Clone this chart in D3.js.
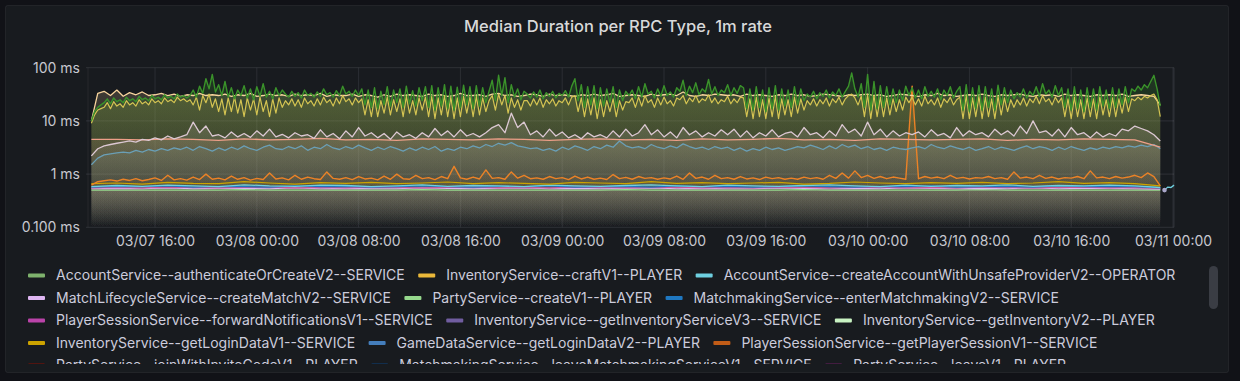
<!DOCTYPE html>
<html><head><meta charset="utf-8">
<script src="https://cdn.jsdelivr.net/npm/d3@7"></script>
<style>
html,body{margin:0;padding:0;background:#111217;overflow:hidden;}
svg{display:block;font-family:Inter,Roboto,"Noto Sans",sans-serif;}
</style></head><body>
<svg id="chart" width="1240" height="381"></svg>
<script>
// ---------------- DATA ----------------
const chartTitle = "Median Duration per RPC Type, 1m rate";
const yTickValues = [0.1, 1, 10, 100];
const yTickLabels = ["0.100 ms", "1 ms", "10 ms", "100 ms"];
const xTickTimes = ["2021-03-07T16:00Z","2021-03-08T00:00Z","2021-03-08T08:00Z","2021-03-08T16:00Z","2021-03-09T00:00Z","2021-03-09T08:00Z","2021-03-09T16:00Z","2021-03-10T00:00Z","2021-03-10T08:00Z","2021-03-10T16:00Z","2021-03-11T00:00Z"];
const xDomain = ["2021-03-07T10:44Z", "2021-03-11T00:00Z"];

// sample grids (start times); series below are read every 15 min, 30 min or 2 h
const quarterHourStart = "2021-03-07T11:00Z";
const halfHourStart = "2021-03-07T11:00Z";
const twoHourStart = "2021-03-07T11:00Z";

// 15-minute samples
const greenValues = [
10,15,18,20,
22,26,21,27,23,25,22,28,24,26,23,29,25,27,24,30,26,28,25,31,27,29,26,32,28,30,27,
30,38,28,45,33,62,40,75,35,48,
30,55,28,42,26,38,30,46,27,40,25,44,29,50,28,36,26,42,30,38,
32,28,36,29,34,27,38,30,33,28,35,29,40,31,34,28,37,30,45,32,36,29,38,30,
40,20,38,18,42,17,36,20,44,19,38,22,40,18,45,21,37,19,42,24,
44,18,46,16,42,19,48,17,45,16,43,18,47,20,44,17,46,19,42,22,
36,58,24,72,30,65,22,48,28,40,25,36,
32,27,35,28,38,26,34,29,36,27,33,30,37,28,
45,62,24,48,18,44,20,46,17,42,19,40,22,44,18,38,24,36,
30,38,26,44,28,50,32,36,27,40,29,46,30,35,28,42,
36,58,30,45,34,52,31,40,35,60,32,44,30,38,34,48,30,42,33,46,
42,17,40,16,44,18,38,15,42,17,46,16,40,19,38,18,44,20,40,24,
32,28,36,26,34,29,38,27,35,30,40,28,36,45,80,40,
28,50,18,75,16,55,17,46,18,44,20,40,22,38,24,45,
30,42,27,38,26,44,29,36,28,40,25,38,30,44,27,36,
44,16,48,15,42,17,46,16,44,18,40,16,47,20,42,22,38,26,
34,28,40,27,36,30,44,29,50,32,38,28,46,30,
42,18,40,16,44,17,38,15,42,18,40,16,44,19,38,17,42,18,40,20,44,22,
40,36,45,38,48,42,55,72,40,19];

const yellowValues = [
9,13,16,17,
18,22,17,23,19,21,18,24,20,22,19,25,21,23,20,26,22,24,21,27,23,25,22,28,24,26,23,
25,20,28,16,30,22,32,18,26,15,
26,13,27,15,28,14,25,12,27,16,26,13,28,15,24,12,26,14,27,18,
24,20,26,19,25,18,27,21,24,19,26,20,28,22,25,19,27,21,30,23,26,20,27,22,
26,13,25,12,27,12,24,14,28,13,25,15,26,12,29,14,24,13,27,16,
28,12,29,11,27,13,30,12,28,11,27,12,29,14,28,12,29,13,27,15,
24,30,16,32,20,30,14,27,18,25,16,24,
24,19,26,20,27,18,25,21,26,19,24,22,27,20,
28,30,15,27,12,26,13,27,11,25,12,24,15,26,12,24,16,23,
22,27,18,28,19,30,22,25,18,27,20,28,21,24,19,27,
25,30,21,27,23,30,22,26,24,31,22,27,21,25,23,29,21,26,22,28,
27,12,26,11,28,12,25,11,27,12,29,11,26,13,25,12,28,14,26,16,
24,20,26,19,25,21,27,19,26,22,28,20,26,30,32,27,
20,29,12,31,11,30,12,28,12,27,13,26,15,25,16,28,
22,28,20,26,19,29,21,25,20,27,18,26,22,28,20,25,
28,11,30,11,27,12,29,11,28,12,26,11,29,13,27,15,25,18,
25,20,27,19,26,22,29,21,30,23,26,20,28,22,
27,12,26,11,28,12,25,11,27,12,26,11,28,13,25,12,27,12,26,14,28,15,
26,24,28,25,29,27,30,32,25,12];

// 30-minute samples
const peachValues = [
10,33,36,30,38,29,34,31,35,30,
31,33,30,32,29,31,30,33,30,31,
30,32,29,31,30,33,29,30,32,30,
31,29,32,30,31,30,33,29,31,30,
30,32,29,31,30,28,31,29,32,30,
31,30,29,32,30,31,29,30,33,30,
30,31,29,32,33,30,31,29,30,32,
31,29,32,30,31,30,29,31,30,32,
30,31,33,29,30,31,30,29,32,30,
31,32,30,35,30,29,31,30,32,31,
30,31,29,32,30,31,30,29,31,30,
32,30,31,29,30,32,31,30,29,31,
30,31,32,30,31,29,30,32,31,30,
29,31,30,33,30,31,29,30,31,30,
32,30,29,31,30,31,32,30,29,31,
30,31,29,32,30,31,30,29,31,30,
31,30,32,29,30,31,30,29,20];

const pinkWhiteValues = [
2.2,3.0,3.4,3.6,3.8,4.0,4.2,4.0,4.5,4.3,
4.8,4.4,5.2,4.6,5.0,5.5,9.5,6.0,8.0,5.2,
5.5,4.8,6.2,5.0,5.8,4.9,6.5,5.2,7.0,5.0,
5.6,4.8,6.0,5.2,5.5,4.7,6.8,5.0,5.8,4.6,
6.5,5.0,7.5,5.2,6.0,4.8,5.8,4.5,6.2,5.0,
5.5,4.7,6.0,5.0,7.2,5.3,6.5,5.0,6.8,5.2,
5.8,5.0,6.0,7.5,8.5,6.0,14.0,7.5,9.5,5.5,
6.5,5.0,7.0,5.2,6.2,4.8,5.5,4.6,6.0,5.0,
5.5,4.8,6.5,5.0,7.0,5.2,6.0,8.5,5.5,6.8,
5.0,6.2,4.8,7.5,5.5,6.5,5.0,6.0,5.2,6.8,
5.5,7.0,5.0,6.5,4.8,6.0,5.2,6.8,5.0,5.8,
6.2,5.0,7.5,5.5,6.0,4.8,6.5,5.2,8.5,6.0,
7.0,5.2,9.5,5.5,7.0,5.0,6.5,5.2,6.0,5.5,
6.2,5.0,6.8,5.3,5.8,4.8,7.5,5.2,6.5,5.5,
6.0,5.0,7.0,5.5,6.5,5.2,8.0,5.8,10.0,6.0,
6.5,5.2,7.0,5.0,7.5,5.5,6.0,4.8,6.2,5.0,
5.8,5.2,7.0,6.5,8.0,7.2,6.5,5.5,4.2];

const steelBlueValues = [
1.5,2.0,2.3,2.4,2.5,2.6,2.5,2.8,2.6,2.9,
2.7,3.0,2.8,3.1,2.9,3.2,2.8,3.3,3.0,2.7,
3.1,2.8,3.2,2.9,3.4,3.0,2.8,3.2,3.5,3.0,
2.9,3.3,3.0,3.4,2.8,3.2,3.0,3.6,3.1,2.9,
3.3,3.0,3.5,3.1,2.8,3.2,2.9,3.3,3.0,2.7,
3.1,2.8,3.2,2.9,3.3,2.7,3.0,2.8,3.2,3.0,
3.4,3.1,3.6,3.3,3.8,3.5,3.9,3.4,3.2,3.0,
3.1,2.8,3.0,2.7,3.2,2.9,3.4,3.1,2.8,3.3,
3.0,3.5,3.2,4.2,3.4,3.1,3.3,3.0,3.6,3.2,
3.0,3.4,3.1,3.7,3.3,3.0,3.2,2.9,3.3,3.0,
3.2,2.8,3.1,2.7,3.0,2.8,3.2,2.9,3.1,2.8,
3.0,3.3,3.1,3.5,3.2,2.9,3.4,3.0,3.6,3.2,
3.5,3.0,3.3,2.9,3.1,2.8,3.2,3.0,2.9,3.1,
3.3,3.0,3.6,3.2,3.0,3.4,3.1,2.9,3.2,2.8,
3.0,3.3,2.9,3.2,3.0,2.8,3.1,3.4,3.0,3.3,
3.1,2.8,3.2,2.9,3.3,3.0,2.8,3.1,2.9,3.2,
3.0,3.3,3.1,3.4,3.2,3.5,3.3,3.6,3.0];

const orangeValues = [
0.62,0.72,0.75,0.78,0.74,0.80,0.76,0.82,0.75,0.79,
0.85,0.76,0.95,0.78,0.82,0.77,0.88,0.79,1.00,0.80,
0.84,0.78,0.92,0.80,0.86,0.77,0.83,0.79,1.05,0.81,
0.85,0.78,0.95,0.80,0.88,0.82,0.79,1.10,0.83,0.80,
0.86,0.79,0.90,0.81,0.84,0.78,0.92,0.80,1.00,0.82,
0.80,0.95,0.82,0.86,0.79,0.90,0.82,1.40,0.85,0.80,
0.88,0.81,1.20,0.83,0.86,0.80,1.10,0.84,0.95,0.82,
0.85,0.80,0.90,0.82,0.86,0.79,0.92,0.81,0.88,0.80,
0.84,0.79,0.98,0.82,0.87,0.80,0.90,0.83,0.86,0.80,
0.85,0.81,0.92,0.80,1.05,0.83,0.88,0.80,0.95,0.82,
0.86,0.80,0.90,0.81,0.85,0.79,0.88,0.82,0.86,0.80,
0.84,0.80,0.88,0.82,0.86,0.80,0.95,0.83,1.05,0.84,
1.15,0.86,0.95,0.83,0.90,0.82,0.88,0.84,0.80,45,
0.82,0.90,0.84,0.88,0.82,0.95,0.83,0.87,0.81,0.86,
0.84,0.90,0.82,0.86,0.80,1.10,0.84,0.88,0.82,0.95,
0.83,0.88,0.81,0.86,0.84,0.90,0.82,1.15,0.85,0.88,
0.82,0.90,0.84,0.88,0.95,0.86,1.05,0.90,0.60];

// 2-hour samples
const salmonValues = [
4.5,4.5,4.4,4.6,4.5,4.3,4.6,4.4,4.5,4.7,
4.4,4.5,4.3,4.6,4.5,4.4,4.6,4.5,4.3,4.5,
4.6,4.4,4.5,4.3,4.6,4.4,4.5,4.7,4.4,4.5,
4.3,4.6,4.5,4.4,4.5,4.6,4.3,4.5,4.4,4.6,
4.5,4.4,3.2];
const darkYellowValues = [
0.66,0.68,0.65,0.70,0.67,0.66,0.72,0.68,0.65,0.69,
0.67,0.70,0.66,0.68,0.71,0.66,0.69,0.67,0.65,0.70,
0.68,0.66,0.72,0.67,0.69,0.66,0.68,0.70,0.65,0.67,
0.71,0.68,0.66,0.69,0.67,0.70,0.66,0.68,0.72,0.67,
0.69,0.66,0.60];
const cyanValues = [
0.58,0.61,0.59,0.62,0.60,0.58,0.63,0.60,0.59,0.62,
0.61,0.58,0.60,0.63,0.59,0.61,0.60,0.58,0.62,0.60,
0.59,0.61,0.63,0.60,0.58,0.62,0.60,0.59,0.61,0.63,
0.60,0.58,0.62,0.59,0.61,0.60,0.63,0.59,0.61,0.60,
0.62,0.60,0.56];
const cyanTailTimes = ["2021-03-10T23:20Z","2021-03-10T23:35Z","2021-03-10T23:50Z","2021-03-11T00:05Z"];
const cyanTailValues = [0.50, 0.57, 0.56, 0.62];
const blueValues = [
0.57,0.59,0.58,0.60,0.57,0.59,0.58,0.57,0.60,0.58,
0.59,0.57,0.58,0.60,0.58,0.57,0.59,0.58,0.60,0.57,
0.58,0.59,0.57,0.60,0.58,0.59,0.57,0.58,0.60,0.58,
0.57,0.59,0.58,0.60,0.57,0.58,0.59,0.57,0.60,0.58,
0.59,0.58,0.55];
const magentaValues = [
0.55,0.56,0.55,0.57,0.56,0.55,0.56,0.57,0.55,0.56,
0.55,0.57,0.56,0.55,0.56,0.57,0.55,0.56,0.55,0.57,
0.56,0.55,0.56,0.57,0.55,0.56,0.55,0.57,0.56,0.55,
0.56,0.57,0.55,0.56,0.55,0.57,0.56,0.55,0.56,0.57,
0.55,0.56,0.54];
const lavenderValues = [
0.53,0.54,0.53,0.55,0.53,0.54,0.54,0.53,0.55,0.53,
0.54,0.53,0.53,0.55,0.54,0.53,0.54,0.55,0.53,0.54,
0.53,0.54,0.55,0.53,0.54,0.53,0.53,0.55,0.54,0.53,
0.54,0.53,0.55,0.54,0.53,0.54,0.53,0.55,0.53,0.54,
0.54,0.53,0.52];
const lightGreenValues = [
0.50,0.50,0.50,0.50,0.50,0.50,0.51,0.50,0.50,0.50,
0.50,0.50,0.50,0.51,0.50,0.50,0.50,0.50,0.50,0.50,
0.50,0.51,0.50,0.50,0.50,0.50,0.50,0.50,0.51,0.50,
0.50,0.50,0.50,0.50,0.50,0.51,0.50,0.50,0.50,0.50,
0.50,0.50,0.50];

const legendNames = [
"AccountService--authenticateOrCreateV2--SERVICE",
"InventoryService--craftV1--PLAYER",
"AccountService--createAccountWithUnsafeProviderV2--OPERATOR",
"MatchLifecycleService--createMatchV2--SERVICE",
"PartyService--createV1--PLAYER",
"MatchmakingService--enterMatchmakingV2--SERVICE",
"PlayerSessionService--forwardNotificationsV1--SERVICE",
"InventoryService--getInventoryServiceV3--SERVICE",
"InventoryService--getInventoryV2--PLAYER",
"InventoryService--getLoginDataV1--SERVICE",
"GameDataService--getLoginDataV2--PLAYER",
"PlayerSessionService--getPlayerSessionV1--SERVICE",
"PartyService--joinWithInviteCodeV1--PLAYER",
"MatchmakingService--leaveMatchmakingServiceV1--SERVICE",
"PartyService--leaveV1--PLAYER"];
const legendColors = ["#7EB26D","#EAB839","#6ED0E0","#DEB6F2","#96D98D","#1F78C1","#BA43A9","#705DA0","#C8F2C2","#CCA300","#447EBC","#C15C17","#890F02","#0A437C","#6D1F62"];

// ---------------- BUILD ----------------
const plot = {left: 88, right: 1174, top: 67.7, bottom: 227.3};
const svg = d3.select("#chart");

const makeTimes = (start, n, stepMin) => d3.range(n).map(i => new Date(Date.parse(start) + i * stepMin * 60000));
const quarterHourTimes = makeTimes(quarterHourStart, greenValues.length, 15);
const halfHourTimes = makeTimes(halfHourStart, peachValues.length, 30);
const twoHourTimes = makeTimes(twoHourStart, salmonValues.length, 120);

const x = d3.scaleUtc().domain(xDomain.map(d => new Date(d))).range([plot.left, 1173]);
const y = d3.scaleLog().domain([0.1, 100]).range([plot.bottom, plot.top]);

// panel
svg.append("rect").attr("x", 5.5).attr("y", 5.5).attr("width", 1223).attr("height", 367).attr("rx", 2)
  .attr("fill", "#181b1f").attr("stroke", "rgba(204,204,220,0.08)");

svg.append("text").attr("x", 618).attr("y", 32).attr("text-anchor", "middle")
  .attr("font-size", 16.5).attr("font-weight", 500).attr("fill", "#d8d9da").text(chartTitle);

// grid
const grid = svg.append("g");
grid.selectAll("line.h").data(yTickValues).join("line")
  .attr("x1", plot.left - 2).attr("x2", plot.right).attr("y1", d => y(d)).attr("y2", d => y(d))
  .attr("stroke", "rgba(204,204,220,0.13)");
grid.selectAll("line.v").data(xTickTimes.map(d => new Date(d))).join("line")
  .attr("x1", d => x(d)).attr("x2", d => x(d)).attr("y1", plot.top).attr("y2", plot.bottom)
  .attr("stroke", "rgba(204,204,220,0.11)");
grid.append("line").attr("x1", plot.left).attr("x2", plot.left).attr("y1", plot.top).attr("y2", plot.bottom)
  .attr("stroke", "rgba(204,204,220,0.08)");
grid.append("line").attr("x1", plot.right).attr("x2", plot.right).attr("y1", plot.top).attr("y2", plot.bottom)
  .attr("stroke", "rgba(204,204,220,0.13)");

// axes labels
const yAxis = svg.append("g").attr("transform", `translate(${plot.left - 8},0)`)
  .call(d3.axisLeft(y).tickValues(yTickValues).tickFormat((d, i) => yTickLabels[i]).tickSize(0).tickPadding(0));
yAxis.select(".domain").remove();
yAxis.selectAll("text").attr("font-size", 14).attr("fill", "#c7c8d0").attr("font-family", "Inter");

const xAxis = svg.append("g").attr("transform", `translate(0,${plot.bottom + 9})`)
  .call(d3.axisBottom(x).tickValues(xTickTimes.map(d => new Date(d))).tickFormat(d3.utcFormat("%m/%d %H:%M")).tickSize(0).tickPadding(0));
xAxis.select(".domain").remove();
xAxis.selectAll("text").attr("font-size", 14).attr("fill", "#c7c8d0").attr("font-family", "Inter");

// series
const series = [
  {key: "lightGreen", times: twoHourTimes, values: lightGreenValues, color: "#96D98D", w: 1.2, op: 0.28},
  {key: "lavender", times: twoHourTimes, values: lavenderValues, color: "#DEB6F2", w: 1.2, op: 0.28},
  {key: "magenta", times: twoHourTimes, values: magentaValues, color: "#C4569A", w: 1.2, op: 0.28},
  {key: "blue", times: twoHourTimes, values: blueValues, color: "#1F78C1", w: 1.2, op: 0.28},
  {key: "cyan", times: twoHourTimes, values: cyanValues, color: "#6ED0E0", w: 1.3, op: 0.28},
  {key: "darkYellow", times: twoHourTimes, values: darkYellowValues, color: "#CCA300", w: 1.2, op: 0.28},
  {key: "orange", times: halfHourTimes, values: orangeValues, color: "#EC8226", w: 1.4, op: 0.28},
  {key: "steelBlue", times: halfHourTimes, values: steelBlueValues, color: "#6A9FB6", w: 1.3, op: 0.28},
  {key: "salmon", times: twoHourTimes, values: salmonValues, color: "#EE9F88", w: 1.3, op: 0.28},
  {key: "pinkWhite", times: halfHourTimes, values: pinkWhiteValues, color: "#DCC8D3", w: 1.3, op: 0.28},
  {key: "peach", times: halfHourTimes, values: peachValues, color: "#F7D49C", w: 1.3, op: 0.2},
  {key: "yellow", times: quarterHourTimes, values: yellowValues, color: "#D4C452", w: 1.2, op: 0.2},
  {key: "green", times: quarterHourTimes, values: greenValues, color: "#3A922A", w: 1.4, op: 0.24}
];

const defs = svg.append("defs");
defs.append("clipPath").attr("id", "plotClip").append("rect")
  .attr("x", plot.left).attr("y", plot.top - 1).attr("width", plot.right - plot.left + 4).attr("height", plot.bottom - plot.top + 1);
series.forEach(s => {
  const g = defs.append("linearGradient").attr("id", "grad-" + s.key)
    .attr("gradientUnits", "userSpaceOnUse").attr("x1", 0).attr("x2", 0).attr("y1", plot.top).attr("y2", plot.bottom);
  g.append("stop").attr("offset", 0).attr("stop-color", s.color).attr("stop-opacity", s.op);
  g.append("stop").attr("offset", 1).attr("stop-color", s.color).attr("stop-opacity", 0.0);
});

const plotG = svg.append("g").attr("clip-path", "url(#plotClip)");
const area = d3.area().x(d => x(d[0])).y0(plot.bottom).y1(d => y(d[1]));
const line = d3.line().x(d => x(d[0])).y(d => y(d[1]));

series.forEach(s => {
  const pts = s.times.map((t, i) => [t, s.values[i]]);
  plotG.append("path").datum(pts).attr("d", area).attr("fill", `url(#grad-${s.key})`);
});
series.forEach(s => {
  const pts = s.times.map((t, i) => [t, s.values[i]]);
  plotG.append("path").datum(pts).attr("d", line).attr("fill", "none")
    .attr("stroke", s.color).attr("stroke-width", s.w).attr("stroke-linejoin", "round");
});
// cyan tail after the other series end
const tail = cyanTailTimes.map((t, i) => [new Date(t), cyanTailValues[i]]);
plotG.append("path").datum(tail).attr("d", line).attr("fill", "none").attr("stroke", "#6ED0E0").attr("stroke-width", 1.3);
plotG.append("circle").attr("cx", x(tail[0][0])).attr("cy", y(tail[0][1])).attr("r", 2.3).attr("fill", "#a9a6c9");

// legend
svg.append("clipPath").attr("id", "legendClip").append("rect").attr("x", 0).attr("y", 258).attr("width", 1200).attr("height", 106);
const legend = svg.append("g").attr("clip-path", "url(#legendClip)");
let lx = 28, ly = 275.5;
legendNames.forEach((name, i) => {
  const g = legend.append("g");
  const t = g.append("text").attr("x", 28).attr("y", 0).attr("dy", "0.35em")
    .attr("font-size", 14).attr("fill", "#ccccdc").text(name);
  const w = t.node().getComputedTextLength();
  const itemW = 28 + w;
  if (lx + itemW > 1195 && lx > 28) { lx = 28; ly += 22.5; }
  g.attr("transform", `translate(${lx},${ly})`);
  g.insert("rect", "text").attr("x", 0).attr("y", -2).attr("width", 17).attr("height", 4).attr("rx", 1).attr("fill", legendColors[i]);
  lx += itemW + 13.5;
});
// scrollbar
svg.append("rect").attr("x", 1209).attr("y", 266).attr("width", 9).attr("height", 43).attr("rx", 4.5).attr("fill", "#3a3d44");
</script>
</body></html>
